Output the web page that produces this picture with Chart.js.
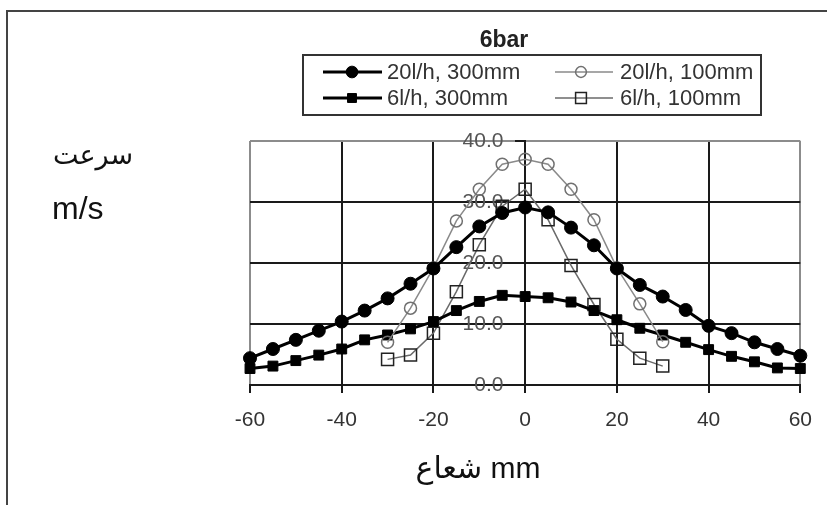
<!DOCTYPE html>
<html>
<head>
<meta charset="utf-8">
<script src="https://cdn.jsdelivr.net/npm/chart.js@4/dist/chart.umd.min.js"></script>
<style>
html,body{margin:0;padding:0;background:#fff;}
#wrap{width:827px;height:505px;position:relative;}
canvas{display:block;}
</style>
</head>
<body>
<div id="wrap"><canvas id="c" width="827" height="505"></canvas></div>
<script>
// ---- data ----
const radius300 = [-60,-55,-50,-45,-40,-35,-30,-25,-20,-15,-10,-5,0,5,10,15,20,25,30,35,40,45,50,55,60];
const radius100 = [-30,-25,-20,-15,-10,-5,0,5,10,15,20,25,30];
const speed20_300 = [4.4,5.9,7.4,8.9,10.4,12.2,14.2,16.6,19.1,22.6,26.0,28.2,29.1,28.3,25.8,22.9,19.1,16.4,14.5,12.3,9.7,8.5,7.0,5.9,4.8];
const speed20_100 = [7.0,12.6,19.2,26.9,32.1,36.2,37.0,36.2,32.1,27.1,19.2,13.3,7.1];
const speed6_300 = [2.7,3.1,4.0,4.9,5.9,7.4,8.2,9.2,10.4,12.2,13.7,14.7,14.5,14.3,13.6,12.2,10.7,9.3,8.2,7.0,5.8,4.7,3.8,2.8,2.7];
const speed6_100 = [4.2,4.9,8.5,15.3,23.0,29.3,32.1,27.1,19.6,13.2,7.5,4.4,3.1];
const xTicks = [-60,-40,-20,0,20,40,60];
const yTicks = [0,10,20,30,40];
const seriesLabels = ['20l/h, 300mm','20l/h, 100mm','6l/h, 300mm','6l/h, 100mm'];
const chartTitle = '6bar';
const yTitleLines = ['سرعت','m/s'];
const xTitle = 'شعاع mm';

const FONT = "'Liberation Sans', Arial, sans-serif";
const pts = (xs, ys) => xs.map((x, i) => ({x: x, y: ys[i]}));

const datasets = [
  {label: seriesLabels[0], data: pts(radius300, speed20_300), borderColor:'#000', borderWidth:3,
   pointStyle:'circle', pointRadius:6.5, pointBackgroundColor:'#000', pointBorderColor:'#000', pointBorderWidth:1},
  {label: seriesLabels[1], data: pts(radius100, speed20_100), borderColor:'#8a8a8a', borderWidth:1.5,
   pointStyle:'circle', pointRadius:6, pointBackgroundColor:'rgba(0,0,0,0)', pointBorderColor:'#707070', pointBorderWidth:1.5},
  {label: seriesLabels[2], data: pts(radius300, speed6_300), borderColor:'#000', borderWidth:3,
   pointStyle:'rect', pointRadius:7, pointBackgroundColor:'#000', pointBorderColor:'#000', pointBorderWidth:1},
  {label: seriesLabels[3], data: pts(radius100, speed6_100), borderColor:'#6a6a6a', borderWidth:1.5,
   pointStyle:'rect', pointRadius:8.5, pointBackgroundColor:'rgba(0,0,0,0)', pointBorderColor:'#222', pointBorderWidth:1.5}
];
datasets.forEach(d => { d.tension = 0; d.fill = false; d.clip = false; d.pointHoverRadius = d.pointRadius; });

function drawMarker(ctx, ds, x, y) {
  ctx.save();
  ctx.fillStyle = ds.pointBackgroundColor;
  ctx.strokeStyle = ds.pointBorderColor;
  ctx.lineWidth = ds.pointBorderWidth;
  if (Chart.helpers && Chart.helpers.drawPoint) {
    Chart.helpers.drawPoint(ctx, {pointStyle: ds.pointStyle, rotation: 0, radius: ds.pointRadius, borderWidth: ds.pointBorderWidth}, x, y);
  } else {
    ctx.beginPath();
    if (ds.pointStyle === 'rect') { const s = ds.pointRadius * Math.SQRT1_2; ctx.rect(x - s, y - s, 2*s, 2*s); }
    else ctx.arc(x, y, ds.pointRadius, 0, Math.PI*2);
    ctx.fill(); ctx.stroke();
  }
  ctx.restore();
}

const decor = {
  id: 'decor',
  beforeDraw(chart) {
    const ctx = chart.ctx;
    ctx.save();
    ctx.fillStyle = '#fff';
    ctx.fillRect(0, 0, chart.width, chart.height);
    // page frame
    ctx.strokeStyle = '#444';
    ctx.lineWidth = 2;
    ctx.beginPath();
    ctx.moveTo(7, 505); ctx.lineTo(7, 11); ctx.lineTo(827, 11);
    ctx.stroke();
    ctx.restore();
  },
  afterDraw(chart) {
    const ctx = chart.ctx;
    ctx.save();
    // title
    ctx.fillStyle = '#222';
    ctx.font = 'bold 23px ' + FONT;
    ctx.textAlign = 'center';
    ctx.textBaseline = 'middle';
    ctx.fillText(chartTitle, 504, 41);
    // legend box
    ctx.strokeStyle = '#333';
    ctx.lineWidth = 2;
    ctx.strokeRect(303, 55, 458, 60);
    const cols = [{x0:323, x1:382, mx:352, tx:387}, {x0:555, x1:613, mx:581, tx:620}];
    const rows = [72, 98];
    ctx.font = '22px ' + FONT;
    ctx.textAlign = 'left';
    [0, 1, 2, 3].forEach((di, k) => {
      const ds = chart.data.datasets[di];
      const c = cols[k % 2], y = rows[Math.floor(k / 2)];
      ctx.strokeStyle = ds.borderColor;
      ctx.lineWidth = ds.borderWidth;
      ctx.beginPath(); ctx.moveTo(c.x0, y); ctx.lineTo(c.x1, y); ctx.stroke();
      drawMarker(ctx, Object.assign({}, ds, {pointRadius: ds.pointRadius * 0.9}), c.mx, y);
      ctx.fillStyle = '#333';
      ctx.fillText(ds.label, c.tx, y + 1);
    });
    // axis titles
    ctx.fillStyle = '#111';
    ctx.font = "27px 'DejaVu Sans', " + FONT;
    ctx.textAlign = 'left';
    ctx.fillText(yTitleLines[0], 53, 157);
    ctx.font = '32px ' + FONT;
    ctx.fillText(yTitleLines[1], 52, 210);
    ctx.font = "30px " + FONT + ", 'DejaVu Sans'";
    ctx.textAlign = 'center';
    ctx.direction = 'ltr';
    ctx.fillText(xTitle, 478, 470);
    ctx.restore();
  }
};

new Chart(document.getElementById('c'), {
  type: 'line',
  data: {datasets: datasets},
  options: {
    responsive: false,
    devicePixelRatio: 1,
    animation: false,
    events: [],
    layout: {padding: {left: 250, right: 26, top: 141, bottom: 60}},
    plugins: {legend: {display: false}, title: {display: false}, tooltip: {enabled: false}},
    scales: {
      x: {
        type: 'linear', position: 'bottom', min: -60, max: 60,
        afterBuildTicks: s => { s.ticks = xTicks.map(v => ({value: v})); },
        afterFit: s => { s.height = 60; },
        ticks: {font: {family: FONT, size: 21}, color: '#333', padding: 15, maxRotation: 0, autoSkip: false},
        grid: {
          color: c => (c.tick && (c.tick.value === -60 || c.tick.value === 60)) ? '#8c8c8c' : '#1a1a1a',
          lineWidth: 2, tickLength: 8, tickColor: '#1a1a1a', drawTicks: true
        },
        border: {display: true, color: '#1a1a1a', width: 2}
      },
      y: {
        type: 'linear', position: {x: 0}, min: 0, max: 40,
        afterBuildTicks: s => { s.ticks = yTicks.map(v => ({value: v})); },
        ticks: {font: {family: FONT, size: 21}, color: '#555', padding: 11,
                callback: v => Number(v).toFixed(1) + '   \u2009'},
        grid: {
          color: c => (c.tick && c.tick.value === 40) ? '#8c8c8c' : '#1a1a1a',
          lineWidth: 2, tickLength: 9, tickColor: '#1a1a1a'
        },
        border: {display: true, color: '#1a1a1a', width: 2}
      }
    }
  },
  plugins: [decor]
});
</script>
</body>
</html>
